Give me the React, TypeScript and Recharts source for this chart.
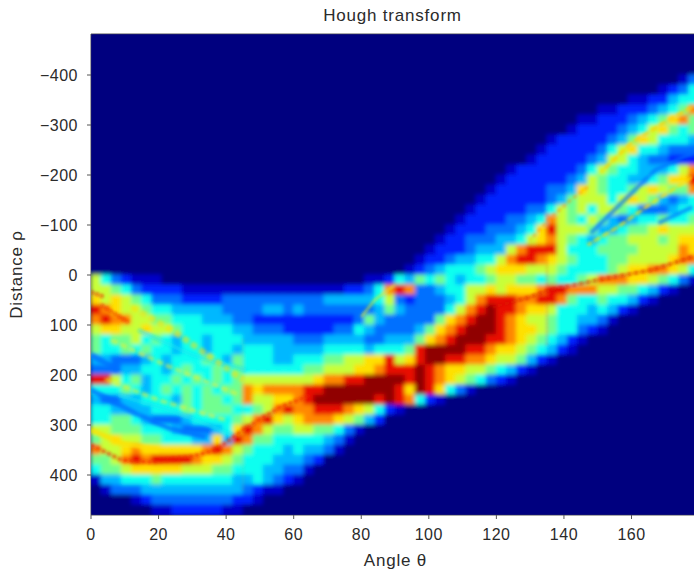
import { CartesianGrid, Scatter, ScatterChart, XAxis, YAxis } from 'recharts';

const angleTicks = [0, 20, 40, 60, 80, 100, 120, 140, 160];
const distanceTicks = [-400, -300, -200, -100, 0, 100, 200, 300, 400];

// jet colormap, low to high
const levelColors = ['#00007f', '#0000c8', '#0020ff', '#0070ff', '#00b8ff', '#10fff0', '#70ff90', '#c8ff38', '#ffe000', '#ff8800', '#e81000', '#900000'];

const angleStep = 3;
const distanceStep = 20;
const firstDistance = -480;

// one string per distance row, one character per angle column (level in base 12)
const houghRows = [
  '0000000000 0000000000 0000000000 0000000000 0000000000 0000000000',
  '0000000000 0000000000 0000000000 0000000000 0000000000 0000000000',
  '0000000000 0000000000 0000000000 0000000000 0000000000 0000000000',
  '0000000000 0000000000 0000000000 0000000000 0000000000 0000000000',
  '0000000000 0000000000 0000000000 0000000000 0000000000 0000000013',
  '0000000000 0000000000 0000000000 0000000000 0000000000 0000001235',
  '0000000000 0000000000 0000000000 0000000000 0000000000 0001122455',
  '0000000000 0000000000 0000000000 0000000000 0000000000 1122234569',
  '0000000000 0000000000 0000000000 0000000000 0000000011 2223456896',
  '0000000000 0000000000 0000000000 0000000000 0000000122 2234578656',
  '0000000000 0000000000 0000000000 0000000000 0000012222 2346875554',
  '0000000000 0000000000 0000000000 0000000000 0000122222 3578554333',
  '0000000000 0000000000 0000000000 0000000000 0001222223 4775433222',
  '0000000000 0000000000 0000000000 0000000000 0122222235 7655444579',
  '0000000000 0000000000 0000000000 0000000000 1222222347 655445688a',
  '0000000000 0000000000 0000000000 0000000001 2222233487 6556787669',
  '0000000000 0000000000 0000000000 0000000012 2222234677 7578764345',
  '0000000000 0000000000 0000000000 0000000122 2223357675 7765333455',
  '0000000000 0000000000 0000000000 0000001222 2334597657 6434556556',
  '0000000000 0000000000 0000000000 0000012223 33458a7776 4456678777',
  '0000000000 0000000000 0000000000 0000122333 4457897654 5667776788',
  '0000000000 0000000000 0000000000 0001222344 479aaa7555 6666777798',
  '0000000000 0000000000 0000000000 0012234455 79aa987655 5667777899',
  '0000000000 0000000000 0000000000 0123455567 8887776555 5678899875',
  '7532111000 0000000000 0000000112 5465654556 7766565567 9998876531',
  '7765322221 1111111111 1111122359 a933455778 78889aa999 7766542100',
  '8787653332 2223333333 3334444457 323334579a aa99aa9655 6554210000',
  'a987765544 4443333443 4333333346 43333579ab aa98875554 5421000000',
  '9a99776655 5444332222 2222223643 3333689abb a987765544 3100000000',
  '7887787765 5555443332 2222335433 334689abbb a988765532 1000000000',
  '6566756545 5455544444 3334444334 44689abbba a987654210 0000000000',
  '6556565545 5455455544 4445555455 56abbbbaa9 8876542100 0000000000',
  '4433345455 5654655544 555667788a 78abbaa998 7764210000 0000000000',
  '3334455456 5565655555 566777889a aaba988776 5421000000 0000000000',
  'aa75645565 6565677777 77899aabbb baba987653 2100000000 0000000000',
  '5556545656 5656698999 9aabbbbbbb a8ba853100 0000000000 0000000000',
  '4334455546 5665697788 9abbbbbbab a952100000 0000000000 0000000000',
  '5544445556 566655679a 99aaa98752 1000000000 0000000000 0000000000',
  '5566543334 5555679a87 8999876420 0000000000 0000000000 0000000000',
  '7766655543 33458a9766 7766531000 0000000000 0000000000 0000000000',
  '6787766555 4484a96655 5554310000 0000000000 0000000000 0000000000',
  '9778988888 89a9765554 5443100000 0000000000 0000000000 0000000000',
  '6679a9aaaa 9887655544 4320000000 0000000000 0000000000 0000000000',
  '5667888887 7766555443 3100000000 0000000000 0000000000 0000000000',
  '1445556555 5555445432 1000000000 0000000000 0000000000 0000000000',
  '0133344444 4444432110 0000000000 0000000000 0000000000 0000000000',
  '0000123333 3333221000 0000000000 0000000000 0000000000 0000000000',
  '0000001122 2221100000 0000000000 0000000000 0000000000 0000000000',
];

const houghCells = houghRows.flatMap((row, r) =>
  row.replace(/ /g, '').split('').map((c, a) => ({
    angle: a * angleStep + angleStep / 2,
    distance: firstDistance + r * distanceStep + distanceStep / 2,
    level: parseInt(c, 12),
  }))
);

// [angle, distance] along the thin streaks that sit on top of the coarse grid
const blueLeftShort = [[0, 160], [8, 190]];
const blueLeftLong = [[0, 230], [13, 276], [23, 306], [34, 324]];
const blueUpperA = [[178, -244], [167, -210], [148, -84]];
const blueUpperB = [[178, -136], [168, -104]];
const redLower = [[0, 340], [9, 370], [17, 374], [29, 364], [37, 350], [45, 310], [56, 264], [65, 240]];
const yellowLower = [[0, 310], [9, 336], [20, 350]];
const orangeTopA = [[0, 34], [4, 44]];
const orangeTopB = [[3, 60], [11, 94]];
const yellowTop = [[12, 64], [24, 110], [45, 210]];
const yellowMidA = [[6, 130], [22, 180], [44, 240]];
const yellowMidB = [[4, 208], [20, 250], [40, 290]];
const cyanMidA = [[14, 110], [30, 160], [46, 190]];
const cyanMidB = [[8, 240], [24, 272], [42, 320]];
const dottedLeft = [[45, 130], [45, 430]];
const dottedRight = [[135, -120], [135, 140]];
const yellowUpperA = [[178, -336], [170, -306], [160, -264], [151, -206]];
const yellowUpperB = [[147, -176], [142, -150], [136, -114], [130, -70]];
const yellowUpperC = [[178, -196], [166, -144], [156, -96], [147, -60]];
const redThin = [[178, -36], [166, -10], [150, 10], [135, 32], [129, 46], [119, 64]];
const yellowWedge = [[90, 20], [84, 50], [80, 84]];

const toPoints = (pts: number[][]) => pts.map(([angle, distance]) => ({ angle, distance }));

const streaks = [
  { pts: blueLeftShort, color: '#0070ff', width: 6, opacity: 0.8 },
  { pts: blueLeftLong, color: '#0070ff', width: 5, opacity: 0.8 },
  { pts: blueUpperA, color: '#0070ff', width: 4, opacity: 0.7 },
  { pts: blueUpperB, color: '#0070ff', width: 4, opacity: 0.7 },
  { pts: cyanMidA, color: '#10e8f0', width: 4, opacity: 0.6 },
  { pts: cyanMidB, color: '#10e8f0', width: 4, opacity: 0.6 },
  { pts: yellowMidA, color: '#e8f030', width: 4, opacity: 0.6, dash: '7 3' },
  { pts: yellowMidB, color: '#e8f030', width: 4, opacity: 0.6, dash: '7 3' },
  { pts: yellowLower, color: '#ffe000', width: 5, opacity: 0.8 },
  { pts: redLower, color: '#f02000', width: 3, opacity: 0.9, dash: '4 2' },
  { pts: orangeTopA, color: '#e81000', width: 3, opacity: 0.9, dash: '3 2' },
  { pts: orangeTopB, color: '#e81000', width: 3, opacity: 0.9, dash: '3 2' },
  { pts: yellowTop, color: '#ffe000', width: 6, opacity: 0.55, dash: '7 3' },
  { pts: yellowUpperA, color: '#ffd000', width: 3, opacity: 0.9, dash: '8 2' },
  { pts: yellowUpperB, color: '#ff9000', width: 2, opacity: 0.9, dash: '4 3' },
  { pts: yellowUpperC, color: '#ffe000', width: 3, opacity: 0.8, dash: '8 2' },
  { pts: redThin, color: '#d81000', width: 2.5, opacity: 0.9, dash: '5 2' },
  { pts: yellowWedge, color: '#e0f020', width: 2, opacity: 0.9 },
  { pts: dottedLeft, color: '#ff7000', width: 1, opacity: 0.9, dash: '1 3' },
  { pts: dottedRight, color: '#e81000', width: 1.5, opacity: 0.9, dash: '1 3' },
];

const fontFamily = '"Liberation Sans", Arial, sans-serif';
const textColor = '#2b2b2b';
const axisColor = '#555555';
const tickStyle = { fontSize: 16, fontFamily, fill: textColor, letterSpacing: 0.5 };
const labelStyle = { fontSize: 17, fontFamily, fill: textColor, letterSpacing: 0.8 };

const HeatCell = (props: any) => {
  const { cx, cy, payload } = props;
  if (cx === undefined || cy === undefined) return null;
  return <rect x={cx - 5.6} y={cy - 5.5} width={11.2} height={11} fill={levelColors[payload.level]} />;
};

const NoDot = () => null;

const App = () => {
  return (
    <div style={{ position: 'absolute', left: 0, top: 0 }}>
      <style>{`.heat-cells { filter: url(#soft); } .streak { filter: url(#softer); }`}</style>
      <ScatterChart width={694} height={574} margin={{ top: 0, right: 0, bottom: 0, left: 0 }}>
        <defs>
          <filter id="soft" filterUnits="userSpaceOnUse" x={91} y={34} width={603} height={481}>
            <feGaussianBlur stdDeviation={2} edgeMode="duplicate" />
          </filter>
          <filter id="softer" filterUnits="userSpaceOnUse" x={91} y={34} width={603} height={481}>
            <feGaussianBlur stdDeviation={0.8} />
          </filter>
        </defs>
        <CartesianGrid fill="#00007f" stroke="none" horizontal={false} vertical={false} />
        <XAxis
          type="number"
          dataKey="angle"
          domain={[0, 178]}
          ticks={angleTicks}
          height={59}
          interval={0}
          tick={tickStyle}
          tickSize={4}
          tickMargin={10}
          stroke={axisColor}
          label={{ value: 'Angle θ', position: 'insideBottom', offset: 8, dx: 3, style: labelStyle }}
        />
        <XAxis
          xAxisId="top"
          type="number"
          orientation="top"
          domain={[0, 178]}
          ticks={angleTicks}
          height={34}
          interval={0}
          tick={() => <g />}
          tickSize={4}
          stroke={axisColor}
          label={{ value: 'Hough transform', position: 'insideTop', offset: 9, style: labelStyle }}
        />
        <YAxis
          type="number"
          dataKey="distance"
          domain={[-482, 480]}
          reversed
          ticks={distanceTicks}
          width={91}
          interval={0}
          tick={tickStyle}
          tickSize={4}
          tickMargin={9}
          tickFormatter={(v: number) => String(v).replace('-', '\u2212')}
          stroke={axisColor}
          label={{ value: 'Distance ρ', angle: -90, position: 'insideLeft', offset: 16, style: { ...labelStyle, textAnchor: 'middle' } }}
        />
        <Scatter className="heat-cells" data={houghCells} shape={HeatCell} isAnimationActive={false} />
        {streaks.map((s, i) => (
          <Scatter
            key={i}
            className="streak"
            data={toPoints(s.pts)}
            shape={NoDot}
            line={{ stroke: s.color, strokeWidth: s.width, strokeOpacity: s.opacity, strokeDasharray: s.dash, strokeLinecap: 'butt' }}
            isAnimationActive={false}
          />
        ))}
      </ScatterChart>
    </div>
  );
};

export default App;
